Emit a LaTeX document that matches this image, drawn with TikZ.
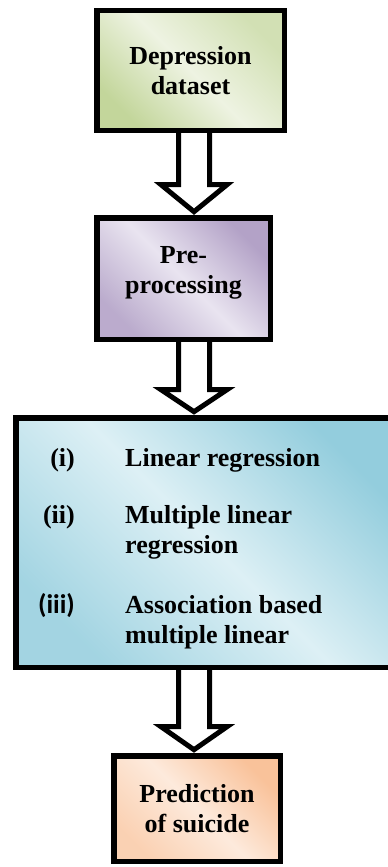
\documentclass[tikz,border=0pt]{standalone}
\usepackage{fontspec}
\setmainfont{Liberation Serif}
\newfontfamily\romfont{Carlito}
\usetikzlibrary{calc,shadows}

\definecolor{olivedk}{HTML}{C3D69B}
\definecolor{olivelt}{HTML}{EEF3E2}
\definecolor{plumdk}{HTML}{B3A2C7}
\definecolor{plumlt}{HTML}{E9E4F0}
\definecolor{aquadk}{HTML}{93CDDD}
\definecolor{aqualt}{HTML}{DDF0F5}
\definecolor{peachdk}{HTML}{F9C29A}
\definecolor{peachlt}{HTML}{FDEADC}

\begin{document}
\begin{tikzpicture}[x=1pt, y=-1pt,
  box/.style={draw=black, line width=5.5pt, align=center, inner sep=0pt,
    font=\fontsize{26}{30}\selectfont\bfseries},
  tint/.style n args={3}{top color=#1, bottom color=#2, middle color=#3, shading angle=-45,
    general shadow={shadow xshift=3pt, shadow yshift=-3pt, fill=#2!70!gray}},
  blockarr/.style={draw=black, fill=white, line width=5pt, line join=miter},
  num/.style={anchor=base east, inner sep=0pt, font=\fontsize{26}{30}\selectfont\bfseries},
  item/.style={anchor=base west, inner sep=0pt, align=left, font=\fontsize{26}{30}\selectfont\bfseries}]

  \clip (0,0) rectangle (388,867);
  \fill[white] (0,0) rectangle (388,867);

  % boxes
  \node[box, tint={olivedk!75!white}{olivedk}{olivelt},
    minimum width=187.5pt, minimum height=119.5pt] (dat) at (190.5,70.5) {Depression\\dataset};
  \node[box, tint={plumdk}{plumdk!90!white}{plumlt}, text depth=18pt,
    minimum width=173.5pt, minimum height=121.5pt] (pre) at (183.5,278.5) {Pre-\\processing};
  \node[box, tint={aquadk}{aquadk!85!white}{aqualt},
    minimum width=386pt, minimum height=249.5pt] (reg) at (208.75,542.5) {};
  \node[box, tint={peachdk}{peachdk!75!white}{peachlt},
    minimum width=166.5pt, minimum height=105.5pt] (pred) at (197,808.5) {Prediction\\of suicide};

  % the three methods
  \begin{scope}
    \clip (reg.north west) rectangle ($(reg.south east)+(0,-22)$);
    \node[num] (n1) at (75,466) {(i)};
    \node[item] (m1) at (125,466) {Linear regression};
    \node[num] (n2) at (75,523) {(ii)};
    \node[item] (m2) at (125,553) {Multiple linear\\regression};
    \node[num, font=\romfont\fontsize{27}{30}\selectfont\bfseries] (n3) at (75,613) {(iii)};
    \node[item] (m3) at (125,643) {Association based\\multiple linear};
  \end{scope}

  % block arrows between the boxes
  \coordinate (axis) at (194,0);
  \foreach \a/\b/\h in {dat/pre/27, pre/reg/22, reg/pred/23}
    \draw[blockarr] ($(\a.south -| axis)+(-15.5,0)$)
      -- ($(\b.north -| axis)+(-15.5,-\h-3.3)$) -- ($(\b.north -| axis)+(-33,-\h-3.3)$)
      -- ($(\b.north -| axis)+(0,-3.3)$)
      -- ($(\b.north -| axis)+(33,-\h-3.3)$) -- ($(\b.north -| axis)+(15.5,-\h-3.3)$)
      -- ($(\a.south -| axis)+(15.5,0)$);
\end{tikzpicture}
\end{document}
